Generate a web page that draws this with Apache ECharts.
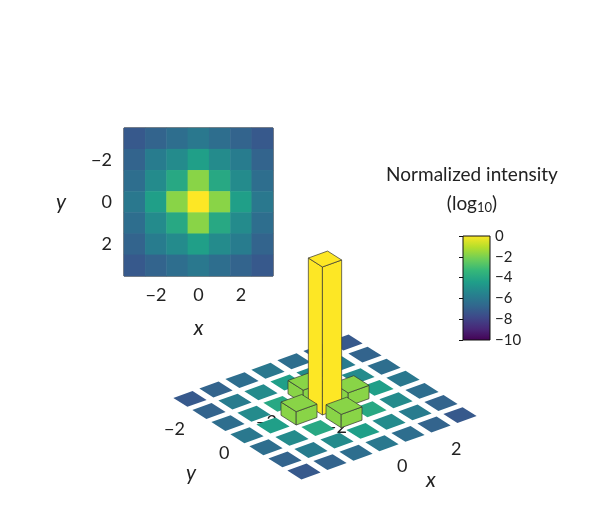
<!DOCTYPE html>
<html><head><meta charset="utf-8">
<script src="https://cdn.jsdelivr.net/npm/echarts@6/dist/echarts.min.js"></script>
<style>html,body{margin:0;background:#fff}#main{width:610px;height:509px}</style>
</head><body><div id="main"></div>
<script>
// positions of the grid cells
var coords = [-3, -2, -1, 0, 1, 2, 3];
// log10 intensity by |x|,|y| (symmetric pattern)
var logByDist = [
    [0, -1.8, -4.4, -6.0],
    [-1.8, -4.0, -5.2, -6.4],
    [-4.4, -5.2, -5.8, -6.8],
    [-6.0, -6.4, -6.8, -7.2]
];
// bar heights in the 3D view (linear, normalized) by |x|,|y|
var heightByDist = [
    [1, 0.09, 0.002, 0],
    [0.09, 0.003, 0, 0],
    [0.002, 0, 0, 0],
    [0, 0, 0, 0]
];
var viridis = ['#440154', '#482878', '#3e4989', '#31688e', '#26828e', '#1f9e89', '#35b779', '#6ece58', '#b5de2b', '#fde725'];

var heatData = [];
coords.forEach(function (x, i) {
    coords.forEach(function (y, j) {
        heatData.push([i, j, logByDist[Math.abs(x)][Math.abs(y)]]);
    });
});

// 3D view projection
var C = [325, 407], EX = [26, -9.4], EY = [19, 12.1], HSCALE = 148;
function proj(x, y, z) {
    return [C[0] + EX[0] * x + EY[0] * y, C[1] + EX[1] * x + EY[1] * y - z * HSCALE];
}
var barData = [];
coords.forEach(function (x) {
    coords.forEach(function (y) {
        barData.push([x, y, logByDist[Math.abs(x)][Math.abs(y)], heightByDist[Math.abs(x)][Math.abs(y)]]);
    });
});
// back to front
barData.sort(function (a, b) {
    return (EX[1] * a[0] + EY[1] * a[1]) - (EX[1] * b[0] + EY[1] * b[1]);
});

function renderBox(params, api) {
    var x = api.value(0), y = api.value(1), h = api.value(3);
    var tall = h * HSCALE > 2;
    var s = tall ? (h === 1 ? 0.37 : 0.4) : 0.37;
    var color = api.visual('color');
    function P(px, py, pz) { return api.coord(proj(px, py, pz)); }
    var stroke = tall ? '#333' : null;
    var kids = [];
    var top = [P(x - s, y - s, h), P(x + s, y - s, h), P(x + s, y + s, h), P(x - s, y + s, h)];
    if (tall) {
        kids.push({ type: 'polygon', shape: { points: [P(x - s, y - s, 0), P(x - s, y + s, 0), P(x - s, y + s, h), P(x - s, y - s, h)] },
            style: { fill: color, stroke: stroke, lineWidth: 0.7 } });
        kids.push({ type: 'polygon', shape: { points: [P(x - s, y + s, 0), P(x + s, y + s, 0), P(x + s, y + s, h), P(x - s, y + s, h)] },
            style: { fill: color, stroke: stroke, lineWidth: 0.7 } });
    }
    kids.push({ type: 'polygon', shape: { points: top }, style: { fill: color, stroke: stroke, lineWidth: 0.7 } });
    return { type: 'group', children: kids };
}

function minus(v) { return v < 0 ? '\u2212' + (-v) : String(v); }

var font = 'Lato, "Noto Sans", sans-serif';
var chart = echarts.init(document.getElementById('main'));
chart.setOption({
    animation: false,
    textStyle: { fontFamily: font },
    grid: [
        { left: 124, top: 128, width: 149, height: 148, show: true, borderColor: '#111', borderWidth: 1 },
        { left: 0, top: 0, width: 610, height: 509 },
        { left: 463, top: 236, width: 27, height: 104, show: true, borderColor: '#111', borderWidth: 1, z: 5,
          backgroundColor: new echarts.graphic.LinearGradient(0, 1, 0, 0, viridis.map(function (c, i) {
              return { offset: i / (viridis.length - 1), color: c };
          })) }
    ],
    xAxis: [
        { type: 'category', gridIndex: 0, data: coords, boundaryGap: true,
          name: 'x', nameLocation: 'middle', nameGap: 42,
          nameTextStyle: { fontSize: 21, fontStyle: 'italic', color: '#222', fontFamily: font },
          axisLine: { show: false },
          axisTick: { alignWithLabel: true, length: 5, lineStyle: { color: '#111' }, interval: function (i) { return i % 2 === 1; } },
          axisLabel: { fontSize: 18, color: '#222', margin: 10, interval: function (i) { return i % 2 === 1; }, formatter: minus } },
        { type: 'value', gridIndex: 1, min: 0, max: 610, show: false },
        { type: 'value', gridIndex: 2, min: 0, max: 1, show: false }
    ],
    yAxis: [
        { type: 'category', gridIndex: 0, data: coords, inverse: true,
          name: 'y', nameLocation: 'middle', nameGap: 58, nameRotate: 0,
          nameTextStyle: { fontSize: 21, fontStyle: 'italic', color: '#222', fontFamily: font },
          axisLine: { show: false },
          axisTick: { alignWithLabel: true, length: 5, lineStyle: { color: '#111' }, interval: function (i) { return i % 2 === 1; } },
          axisLabel: { fontSize: 18, color: '#222', margin: 12, interval: function (i) { return i % 2 === 1; }, formatter: minus } },
        { type: 'value', gridIndex: 1, min: 0, max: 509, inverse: true, show: false },
        { type: 'value', gridIndex: 2, min: -10, max: 0, interval: 2, position: 'right',
          axisLine: { show: false }, splitLine: { show: false },
          axisTick: { show: true, inside: true, length: 4, lineStyle: { color: '#111' } },
          axisLabel: { fontSize: 15, color: '#222', margin: 5, formatter: minus } }
    ],
    visualMap: {
        type: 'continuous', min: -10, max: 0, dimension: 2, seriesIndex: [0, 1],
        inRange: { color: viridis }, show: false
    },
    title: [
        { text: 'Normalized intensity', left: 467, top: 160, textAlign: 'center',
          textStyle: { fontSize: 19, fontWeight: 'normal', color: '#222', fontFamily: font } },
        { text: '(log{s|10})', left: 467, top: 188, textAlign: 'center',
          textStyle: { fontSize: 19, fontWeight: 'normal', color: '#222', fontFamily: font,
              rich: { s: { fontSize: 13, verticalAlign: 'bottom', padding: [8, 0, 0, 0], color: '#222', fontFamily: font } } } }
    ],
    graphic: [
        { type: 'text', left: 164, top: 420, style: { text: '\u22122', fontSize: 18, fill: '#222', fontFamily: font } },
        { type: 'text', left: 219, top: 444, style: { text: '0', fontSize: 18, fill: '#222', fontFamily: font } },
        { type: 'text', left: 186, top: 463, style: { text: 'y', fontSize: 21, fontStyle: 'italic', fill: '#222', fontFamily: font } },
        { type: 'text', left: 397, top: 457, style: { text: '0', fontSize: 18, fill: '#222', fontFamily: font } },
        { type: 'text', left: 451, top: 440, style: { text: '2', fontSize: 18, fill: '#222', fontFamily: font } },
        { type: 'text', left: 426, top: 470, style: { text: 'x', fontSize: 21, fontStyle: 'italic', fill: '#222', fontFamily: font } },
        { type: 'text', left: 256, top: 413, z: 0, style: { text: '\u22122', fontSize: 18, fill: '#222', fontFamily: font } },
        { type: 'text', left: 326, top: 418, style: { text: '\u22122', fontSize: 18, fill: '#222', fontFamily: font } }
    ],
    series: [
        { type: 'heatmap', xAxisIndex: 0, yAxisIndex: 0, data: heatData },
        { type: 'custom', xAxisIndex: 1, yAxisIndex: 1, data: barData, renderItem: renderBox, z: 3 }
    ]
});
</script>
</body></html>
